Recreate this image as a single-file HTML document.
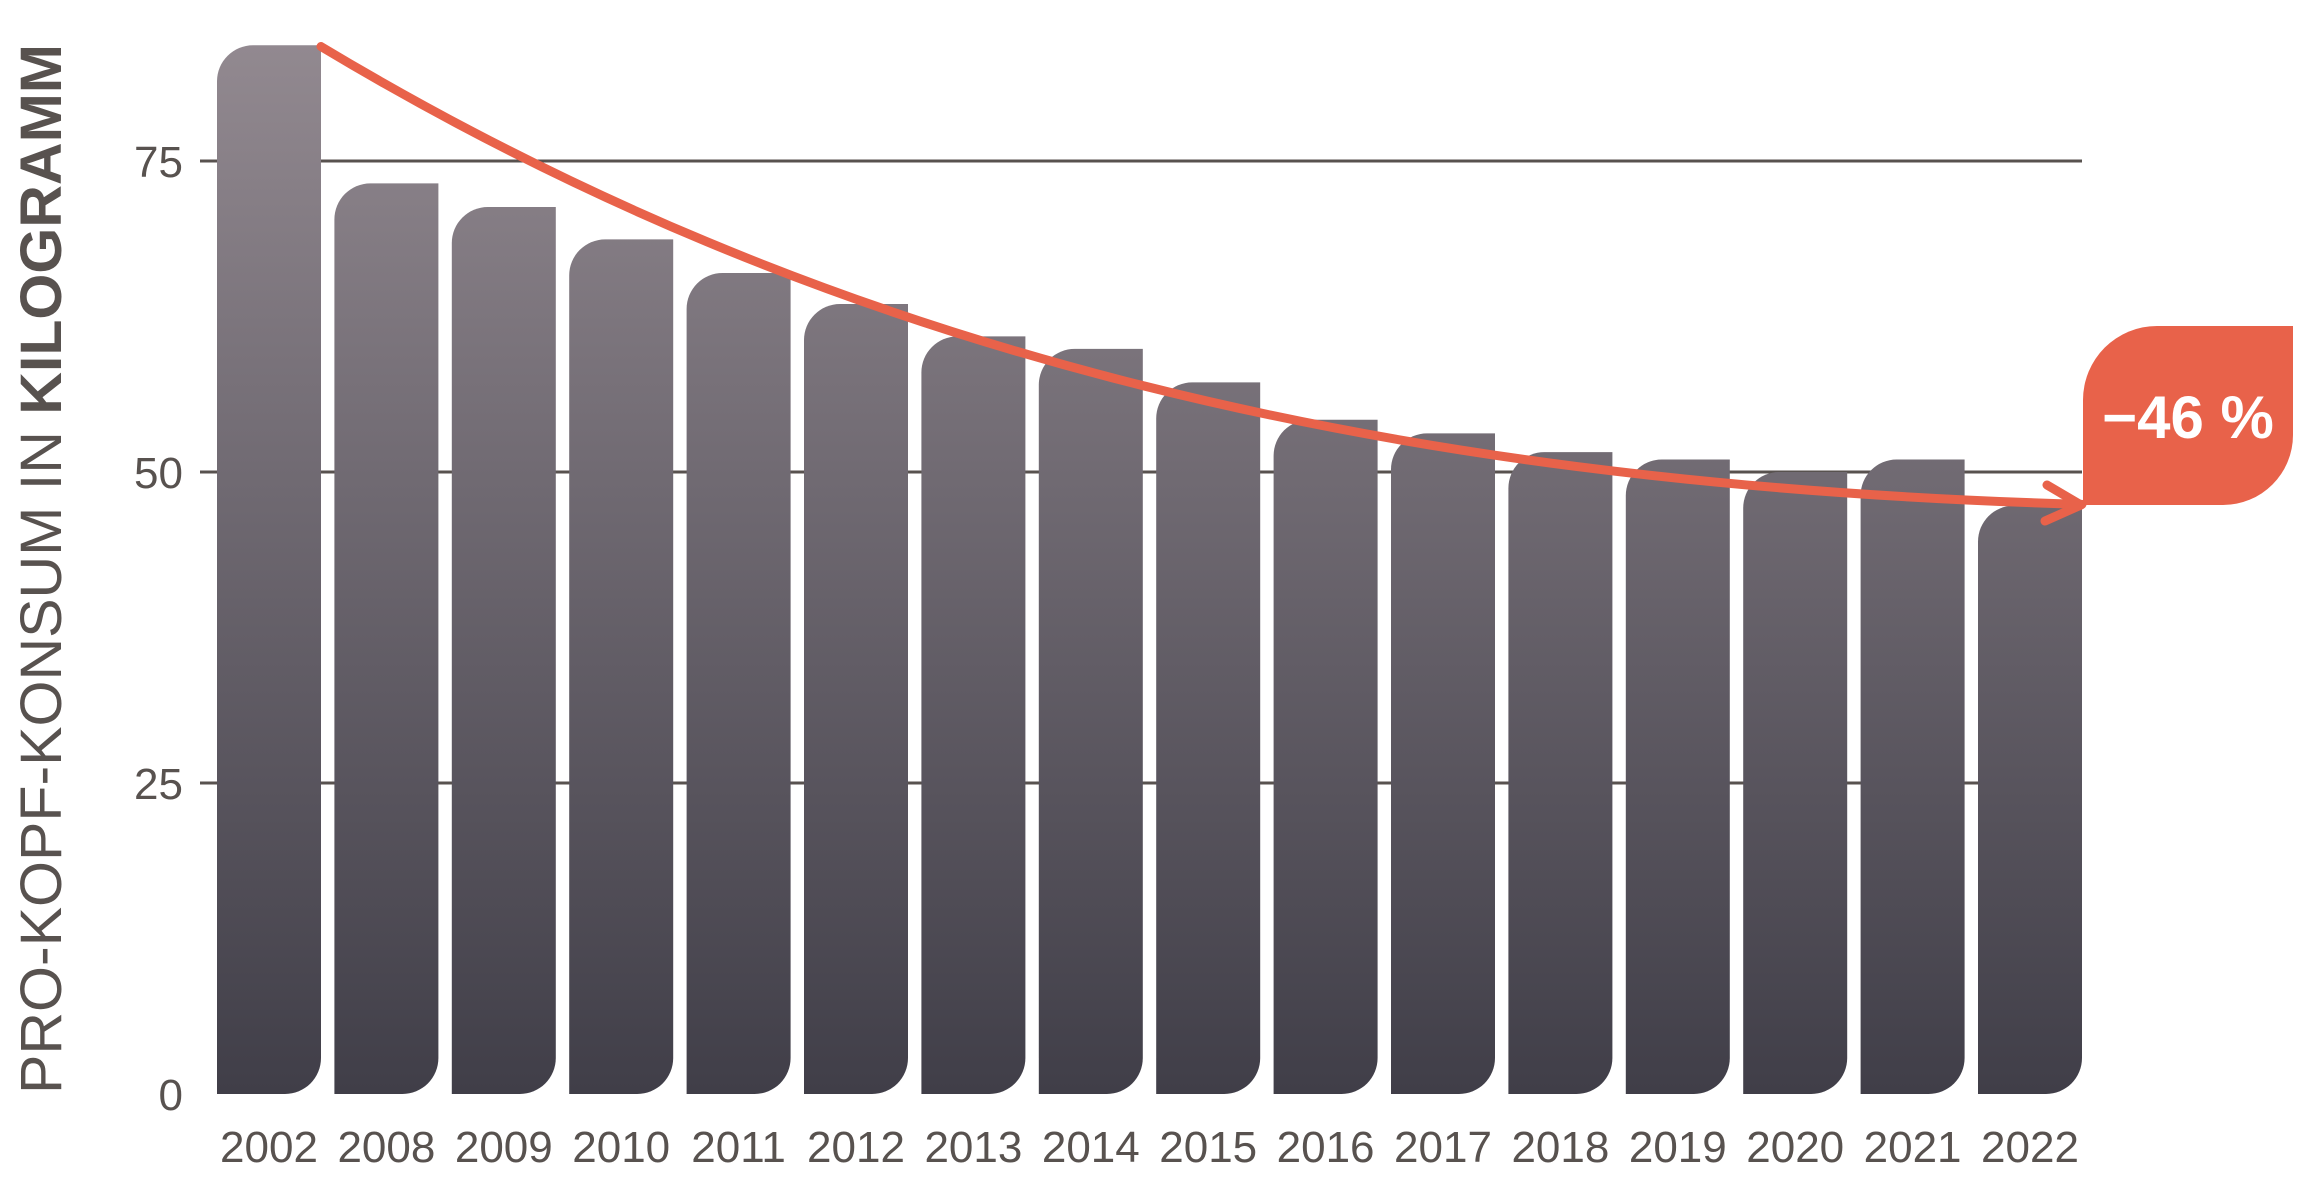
<!DOCTYPE html>
<html><head><meta charset="utf-8"><style>html,body{margin:0;padding:0;background:#fff}svg{display:block}</style></head>
<body>
<svg id="chart" width="2312" height="1202" viewBox="0 0 2312 1202" xmlns="http://www.w3.org/2000/svg">
<defs>
<linearGradient id="barGrad" gradientUnits="userSpaceOnUse" x1="0" y1="44" x2="0" y2="1094">
<stop offset="0" stop-color="#928990"/><stop offset="1" stop-color="#403e48"/>
</linearGradient>
</defs>
<g id="grid"></g>
<g id="bars"></g>
<g id="xlabels"></g>
<g id="ylabels"></g>
<text transform="translate(61,1094) rotate(-90)" font-family="'Liberation Sans',sans-serif" font-size="58" fill="#58524f" textLength="1050" lengthAdjust="spacingAndGlyphs">PRO-KOPF-KONSUM IN <tspan font-weight="bold">KILOGRAMM</tspan></text>
<path id="trend" fill="none" stroke="#e8624a" stroke-width="9" stroke-linecap="round" stroke-linejoin="round"></path>
<path d="M2047,485 L2081,505 L2045,521" fill="none" stroke="#e8624a" stroke-width="9" stroke-linecap="round" stroke-linejoin="round"/>
<path d="M2157,326 L2293,326 L2293,435 A70,70 0 0 1 2223,505 L2083,505 L2083,400 A74,74 0 0 1 2157,326 Z" fill="#e8624a"/>
<text x="2188" y="438" text-anchor="middle" font-family="'Liberation Sans',sans-serif" font-weight="bold" font-size="60" fill="#fff">−46 %</text>
</svg>
<script>
const categories = ["2002","2008","2009","2010","2011","2012","2013","2014","2015","2016","2017","2018","2019","2020","2021","2022"];
const values = [84.3,73.2,71.3,68.7,66.0,63.5,60.9,59.9,57.2,54.2,53.1,51.6,51.0,50.0,51.0,47.3];
const yTicks = [0,25,50,75];
const yTickLabels = ["0","25","50","75"];
const trendValues = [84.2,47.4];

const NS="http://www.w3.org/2000/svg";
const x0=217, pitch=117.4, bw=104, r=36, yZero=1094, pxPerUnit=12.44;
const xPos=i=>x0+i*pitch;
const yPos=v=>yZero-v*pxPerUnit;
function mk(tag,attrs,parent){const e=document.createElementNS(NS,tag);for(const k in attrs)e.setAttribute(k,attrs[k]);parent.appendChild(e);return e;}
const grid=document.getElementById('grid'),bars=document.getElementById('bars'),xl=document.getElementById('xlabels'),yl=document.getElementById('ylabels');
const xEnd=xPos(categories.length-1)+bw;
yTicks.forEach((t,i)=>{
  const y=yPos(t);
  if(t>0){
    const ln=mk('line',{x1:200,x2:xEnd,y1:y,y2:y,stroke:'#58524f','stroke-width':3},grid);
    
    
  }
  const tx=mk('text',{x:183,y:y+16,'text-anchor':'end','font-family':"'Liberation Sans',sans-serif",'font-size':44,fill:'#58524f'},yl);
  tx.textContent=yTickLabels[i];
  
  
});
categories.forEach((c,i)=>{
  const x=xPos(i), y=yPos(values[i]), b=yZero;
  const d=`M${x},${y+r} A${r},${r} 0 0 1 ${x+r},${y} L${x+bw},${y} L${x+bw},${b-r} A${r},${r} 0 0 1 ${x+bw-r},${b} L${x},${b} Z`;
  const p=mk('path',{d:d,fill:'url(#barGrad)'},bars);
  
  
  const t=mk('text',{x:x+bw/2,y:1162,'text-anchor':'middle','font-family':"'Liberation Sans',sans-serif",'font-size':44,fill:'#58524f'},xl);
  t.textContent=c;
  
  
});
// trend curve from first bar to last bar
const sx=xPos(0)+bw, sy=yPos(trendValues[0]);
const ex=xPos(categories.length-1)+bw, ey=yPos(trendValues[1]);
const tr=document.getElementById('trend');
tr.setAttribute('d',`M${sx},${sy} C${sx+500},${sy+300} ${sx+1050},${ey-20} ${ex},${ey}`);
</script>
</body></html>
